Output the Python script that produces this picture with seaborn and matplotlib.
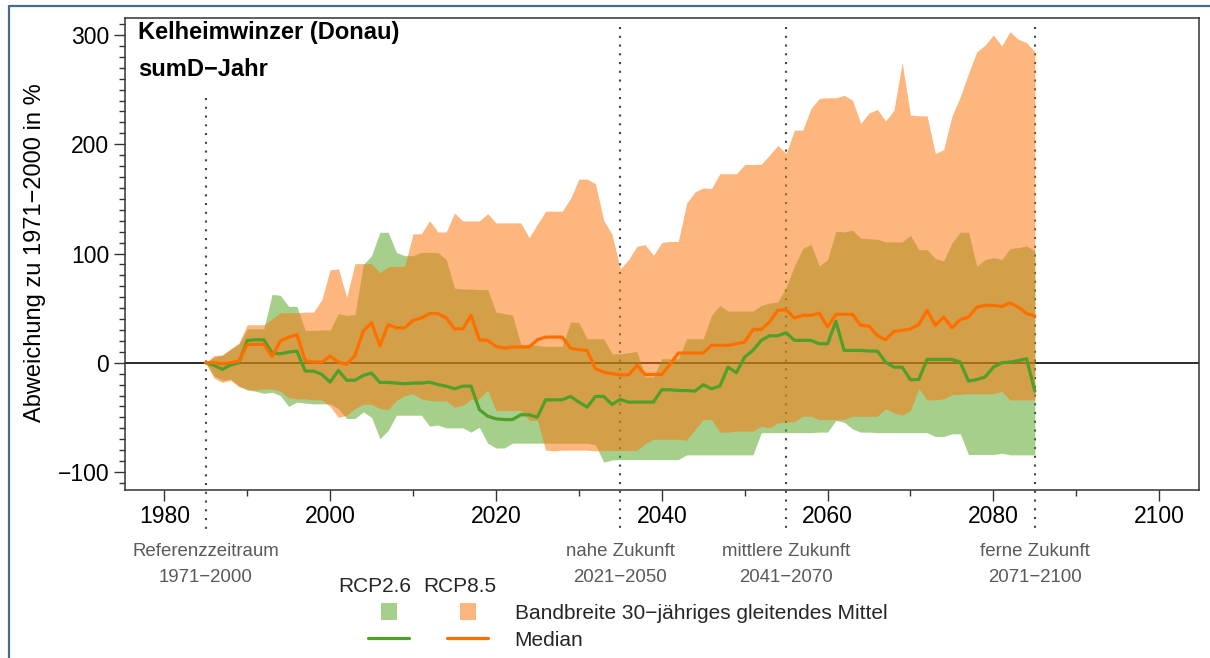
import numpy as np
import pandas as pd
import matplotlib
matplotlib.use("Agg")
import matplotlib.pyplot as plt
import seaborn as sns
from matplotlib.transforms import Affine2D, blended_transform_factory
from matplotlib.lines import Line2D
from matplotlib.patches import Rectangle
from matplotlib.ticker import FixedLocator

# ---------------------------------------------------------------
# 30-year moving mean of sumD (yearly), change relative to 1971-2000 in %
# ---------------------------------------------------------------
years = list(range(1985, 2086))

rcp26_median = [
    0, -2.4, -6, -2, 0, 20.5, 21, 21, 9, 8.2,                        # 1985-1994
    9.8, 10.7, -7.6, -7.6, -10.7, -17.7, -7, -16, -16, -11.6,        # 1995-2004
    -9.5, -18, -18, -18.6, -19.2, -18.6, -18.6, -17.7, -19.9, -21.4,  # 2005-2014
    -23.8, -21.4, -21.4, -42.8, -48.9, -51.3, -52, -52, -47.6, -47.6,  # 2015-2024
    -49.8, -33.9, -33.9, -33.9, -30.8, -36, -40.6, -30.8, -30.8, -38.2,  # 2025-2034
    -33.6, -36, -36, -36, -36, -24.7, -24.7, -25.4, -25.4, -26,      # 2035-2044
    -20, -23.8, -21.4, -4, -9.2, 5.2, 11.3, 20.5, 24.7, 24.7,        # 2045-2054
    27.5, 20.5, 20.5, 20.5, 17.4, 17.4, 37.9, 11.3, 11.3, 11.3,      # 2055-2064
    10.7, 10.7, 0.6, -4, -4, -15.6, -15.3, 3, 3, 3,                  # 2065-2074
    3, 0.6, -16.8, -15.3, -13, -4, 0, 0.6, 2, 3.7,                   # 2075-2084
    -26,                                                             # 2085
]
rcp26_lower = [
    0, -12, -16, -15, -21, -25, -26, -28, -27, -30,
    -40, -36, -37, -37.6, -37.6, -37.6, -42, -51, -51, -45,
    -50, -69.6, -62, -48, -48, -48, -48, -58, -57, -59.6,
    -59.6, -59.6, -63.5, -59, -73.6, -78, -78, -73.6, -73.6, -73.6,
    -73.6, -73.6, -73.6, -73.6, -73.6, -73.6, -73.6, -75, -91, -89,
    -88.6, -88.6, -88.6, -88.6, -88.6, -88.6, -88.6, -88.6, -84.3, -84.3,
    -84.3, -84.3, -84.3, -84.3, -84.3, -84.3, -84.3, -64, -64, -64,
    -64, -64, -64, -64, -63.5, -63.5, -52.8, -54.4, -60.5, -63.5,
    -63.5, -64, -64, -64, -64, -64, -64, -64, -67.5, -67.5,
    -65, -65, -84, -84, -84, -84, -82.8, -84.3, -84.3, -84.3,
    -84.3,
]
rcp26_upper = [
    0, 5, 7, 12, 17, 31, 31, 31, 62.6, 61.7,
    51.6, 51.6, 29.6, 29.6, 30, 30, 45, 43.4, 44, 90,
    98, 119.4, 119.4, 101, 98, 98, 101, 101, 101, 94.4,
    68.4, 67.5, 67.5, 67, 67, 46.4, 45, 43.4, 16.8, 16.8,
    15.9, 15, 15, 15, 37.3, 37, 22, 22, 22, 8.2,
    8.2, 9.2, 10.4, -13, -13, 3.7, 3.7, 3.7, 22, 22,
    22, 43.4, 52.5, 47.3, 47.3, 47.3, 47.3, 52.5, 54.7, 55.6,
    69.3, 88.3, 104.5, 108.4, 88.6, 94.4, 120.3, 119.7, 121.3, 114,
    113.6, 113, 110.6, 110.6, 110.6, 116.7, 103.5, 103.5, 95.3, 93.2,
    109.7, 119.4, 119.4, 88.3, 94.4, 96.2, 94.4, 104.5, 105.4, 107,
    102.3,
]

rcp85_median = [
    0, 0, -1, 0, 1.5, 16.8, 16.8, 16.8, 5.8, 19.9,
    23.5, 25.7, 2, 0.6, 0.6, 6, 0.6, -1.5, 6.7, 29,
    36.7, 15.6, 34.8, 32, 32, 38.8, 41, 45, 45, 41,
    31, 31, 43.4, 21, 20.5, 15, 13.4, 14.4, 14.4, 14.4,
    21, 23.5, 23.5, 23.5, 13.4, 12, 11.3, -5.5, -8.6, -10,
    -11, -11, -2.4, -10.7, -10.7, -10.7, -1.5, 8.9, 8.9, 8.9,
    8.9, 15.9, 15.9, 15.9, 17.4, 19, 30.5, 30.5, 37.3, 48,
    48.6, 41, 43.4, 43.4, 45.5, 32.7, 44.3, 44.3, 44.3, 34.2,
    33.6, 25, 21, 28.7, 29.6, 31, 35, 48, 34.2, 41.8,
    32, 39.4, 41.8, 51, 52.5, 52.5, 51.6, 54.7, 51, 45,
    42.8,
]
rcp85_lower = [
    0, -14, -18, -16, -22, -24, -25, -24, -24, -26,
    -32, -33, -33, -34, -34, -40, -50, -48, -42, -38,
    -38, -42, -43, -34.5, -30, -28.4, -33, -34.5, -35, -35,
    -40.6, -39, -33.6, -33, -25, -43.7, -43.7, -43.7, -43.7, -52.8,
    -52.8, -80, -80.6, -80, -80, -80, -80, -80.6, -80.3, -80.3,
    -80.3, -80.3, -80.3, -74, -70, -70, -70, -70, -71, -61.4,
    -52, -52, -63.5, -63.5, -62.5, -62.5, -62.5, -58, -59.6, -55,
    -54, -54, -49, -49, -52, -52, -52, -52, -49, -49,
    -49, -49, -42, -46, -48, -43.7, -23.5, -34, -34, -33,
    -29.3, -29, -28.4, -28.4, -28.4, -28.4, -26.3, -34, -34, -34,
    -34,
]
rcp85_upper = [
    0, 6.7, 7, 13, 18, 34.8, 34.8, 34.8, 40, 45.8,
    45.8, 45.8, 46.4, 46.4, 57.7, 85, 86, 60, 90.7, 90.7,
    90.7, 82.5, 87.7, 88.3, 88.3, 118, 118, 130, 119.7, 119.7,
    137, 129.8, 129.8, 129.8, 136.5, 128, 128, 128, 128, 114.5,
    126.8, 138.7, 138.7, 138.7, 150.3, 168, 168, 164, 130.4, 117.6,
    86, 94.4, 106.6, 108, 98.3, 110, 111, 111, 146, 156.4,
    160, 159.5, 173, 173, 173, 181.4, 181.4, 181.7, 190, 199,
    191.5, 212.9, 212.9, 232.7, 241.9, 242.5, 242.5, 244.7, 240.4, 219,
    228.7, 231.8, 221.4, 231, 274.6, 226.6, 226, 226, 191.5, 195,
    225.6, 243.4, 264.8, 284.6, 290.7, 300, 289.9, 303, 296, 293,
    284.6,
]

scenarios = ["RCP2.6", "RCP8.5"]
period_centers = [1985, 2035, 2055, 2085]
period_names = ["Referenzzeitraum", "nahe Zukunft", "mittlere Zukunft", "ferne Zukunft"]
period_ranges = ["1971\u22122000", "2021\u22122050", "2041\u22122070", "2071\u22122100"]

station = "Kelheimwinzer (Donau)"
indicator = "sumD\u2212Jahr"
y_label = "Abweichung zu 1971\u22122000 in %"
band_label = "Bandbreite 30\u2212j\u00e4hriges gleitendes Mittel"
median_label = "Median"

# ---------------------------------------------------------------
sns.set_theme(style="white")
plt.rcParams["font.family"] = ["Liberation Sans", "DejaVu Sans"]
plt.rcParams["axes.unicode_minus"] = True

line_colors = {"RCP2.6": "#4f9f2a", "RCP8.5": "#ff6f00"}
band_colors = {"RCP2.6": (81 / 255, 161 / 255, 27 / 255), "RCP8.5": (251 / 255, 118 / 255, 12 / 255)}
band_alpha = {"RCP2.6": 0.5, "RCP8.5": 0.53}

W, H = 1210, 658
fig = plt.figure(figsize=(W / 100, H / 100), dpi=100)
left, right, top, bottom = 124.5, 1199, 17.5, 489.5
ax = fig.add_axes([left / W, 1 - bottom / H, (right - left) / W, (bottom - top) / H])

# pixel coordinates with origin at the top-left corner of the figure
pix = Affine2D().scale(1 / W, -1 / H).translate(0, 1) + fig.transFigure
xdata_ypix = blended_transform_factory(ax.transData, pix)

ax.set_xlim(1975.2, 2104.8)
ax.set_ylim(-116, 316)

# reference line and period markers underneath the bands
ax.axhline(0, color="#1a1a1a", lw=1.3, zorder=1)
for yr in period_centers:
    y_top = 98 if yr == period_centers[0] else 27
    ax.add_line(Line2D([yr, yr], [y_top, 533], transform=xdata_ypix, color="#444444",
                       lw=1.5, linestyle=(0, (1, 3.2)), clip_on=False, zorder=1))

# uncertainty bands
bands = {
    "RCP2.6": (rcp26_lower, rcp26_upper),
    "RCP8.5": (rcp85_lower, rcp85_upper),
}
for i, sc in enumerate(scenarios):
    lo, hi = bands[sc]
    ax.fill_between(years, lo, hi, color=band_colors[sc], alpha=band_alpha[sc],
                    lw=0, zorder=2 + i)

# medians
df = pd.concat([
    pd.DataFrame({"Jahr": years, "Wert": rcp26_median, "Szenario": "RCP2.6"}),
    pd.DataFrame({"Jahr": years, "Wert": rcp85_median, "Szenario": "RCP8.5"}),
])
sns.lineplot(data=df, x="Jahr", y="Wert", hue="Szenario", hue_order=scenarios,
             palette=line_colors, lw=2.3, legend=False, ax=ax, zorder=5,
             estimator=None, sort=True)

# axes styling
ax.set_xlabel("")
ax.set_ylabel("")
ax.xaxis.set_major_locator(FixedLocator([1980, 2000, 2020, 2040, 2060, 2080, 2100]))
ax.xaxis.set_minor_locator(FixedLocator(list(range(1980, 2101, 10))))
ax.yaxis.set_major_locator(FixedLocator([-100, 0, 100, 200, 300]))
ax.yaxis.set_minor_locator(FixedLocator(list(range(-110, 311, 10))))
ax.tick_params(axis="both", which="major", direction="out", length=7.9, width=1.0,
               color="#333333", labelsize=16.5, labelcolor="black")
ax.tick_params(axis="both", which="minor", direction="out", length=4.3, width=1.0,
               color="#333333")
ax.tick_params(axis="x", which="major", pad=3.2)
ax.tick_params(axis="y", which="major", pad=3)
ax.tick_params(axis="x", which="both", bottom=True)
ax.tick_params(axis="y", which="both", left=True)
for sp in ax.spines.values():
    sp.set_visible(True)
    sp.set_color("#333333")
    sp.set_linewidth(1.1)
ax.grid(False)

# y-axis label
fig.text(35, 253, y_label, transform=pix, rotation=90, ha="center", va="center",
         fontsize=17, color="black")

# station / indicator heading
fig.text(138.3, 39, station, transform=pix, ha="left", va="baseline",
         fontsize=17, fontweight="bold", color="black")
fig.text(138.3, 76.5, indicator, transform=pix, ha="left", va="baseline",
         fontsize=17, fontweight="bold", color="black")

# period captions below the axis
for yr, name, rng in zip(period_centers, period_names, period_ranges):
    ax.text(yr, 556, name, transform=xdata_ypix, ha="center", va="baseline",
            fontsize=13.4, color="#595959")
    ax.text(yr, 582, rng, transform=xdata_ypix, ha="center", va="baseline",
            fontsize=13.4, color="#595959")

# legend
fig.text(375, 592, scenarios[0], transform=pix, ha="center", va="baseline", fontsize=15)
fig.text(460, 592, scenarios[1], transform=pix, ha="center", va="baseline", fontsize=15)
for cx, sc in zip([388.8, 467.5], scenarios):
    fig.patches.append(Rectangle((cx - 8, 603), 16, 17, transform=pix, lw=0,
                                 facecolor=band_colors[sc], alpha=band_alpha[sc]))
for (x0, x1), sc in zip([(367.5, 409), (446.8, 488)], scenarios):
    fig.lines.append(Line2D([x0, x1], [638, 638], transform=pix,
                            color=line_colors[sc], lw=2.3))
fig.text(514.6, 619, band_label, transform=pix, ha="left", va="baseline", fontsize=15)
fig.text(514.6, 645.5, median_label, transform=pix, ha="left", va="baseline", fontsize=15)

# panel frame
fig.lines.append(Line2D([8.5, 8.5, 1215], [700, 5.5, 5.5], transform=pix,
                        color="#41708f", lw=1.6))

fig.savefig("out.png", dpi=100)
